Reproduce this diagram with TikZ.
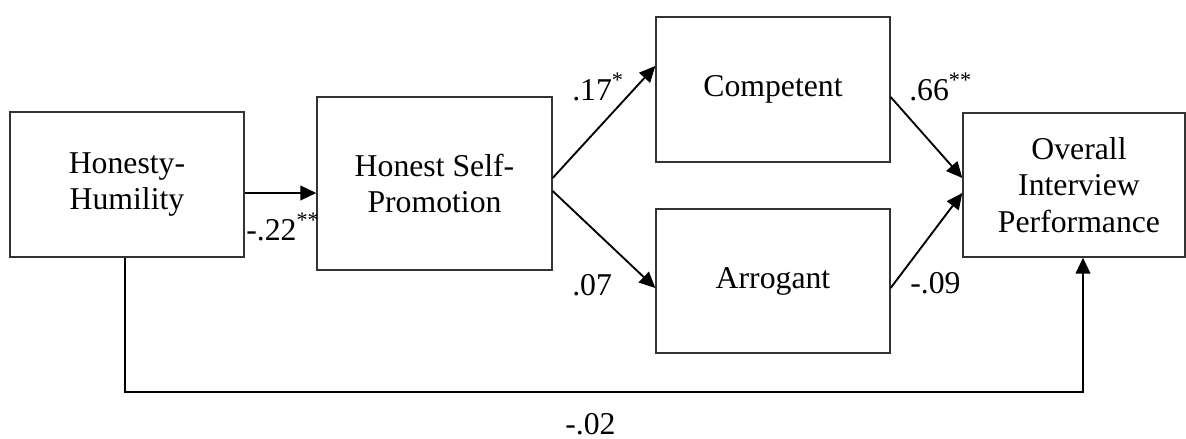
\documentclass[tikz,border=0pt]{standalone}
\usepackage{fontspec}
\setmainfont{Liberation Serif}
\usetikzlibrary{arrows.meta,calc}
\begin{document}
\begin{tikzpicture}[x=0.75pt,y=-0.75pt,
  every node/.style={font=\fontsize{23.8}{27.5}\selectfont},
  box/.style={draw=black!80,line width=1pt,align=center,inner sep=0pt},
  conn/.style={draw=black,line width=1.4pt,-{Triangle[length=12pt,width=11pt]}},
  lab/.style={anchor=base west,inner sep=0pt}]
\useasboundingbox (0,0) rectangle (1186,439);
\node[box,minimum width=175.5pt,minimum height=108.75pt] (hh) at (127,184.5) {Honesty-\\Humility};
\node[box,minimum width=176.25pt,minimum height=129.75pt] (hsp) at (434.5,183.5) {Honest Self-\\Promotion};
\node[box,minimum width=175.5pt,minimum height=108.75pt] (comp) at (773,89.5) {Competent};
\node[box,minimum width=175.5pt,minimum height=108pt] (arr) at (773,281) {Arrogant};
\node[box,minimum width=166.5pt,minimum height=108pt] (ov) at (1074,185) {\hspace*{7.5pt}Overall\\\hspace*{7.5pt}Interview\\\hspace*{7.5pt}Performance};
\draw[conn] ($(hh.east)+(0,8.5)$) -- ($(hsp.west)+(0,9.5)$);
\draw[conn] ($(hsp.east)+(0,-5.5)$) -- ($(comp.west)+(0,-23.5)$);
\draw[conn] ($(hsp.east)+(0,7.5)$) -- ($(arr.west)+(0,7)$);
\draw[conn] ($(comp.east)+(0,7.5)$) -- ($(ov.west)+(0,-7)$);
\draw[conn] ($(arr.east)+(0,7)$) -- ($(ov.west)+(0,8)$);
\coordinate (b1) at (125,392);
\coordinate (b2) at (1083,392);
\draw[conn] (hh.south -| b1) -- (b1) -- (b2) -- (ov.south -| b2);
\node[lab] (l1) at (246,240) {-.22\textsuperscript{**}};
\node[lab] (l2) at (572,100) {.17\textsuperscript{*}};
\node[lab] (l3) at (572,295) {.07};
\node[lab] (l4) at (909,100) {.66\textsuperscript{**}};
\node[lab] (l5) at (910,293) {-.09};
\node[lab] (l6) at (565,434) {-.02};
\end{tikzpicture}
\end{document}
